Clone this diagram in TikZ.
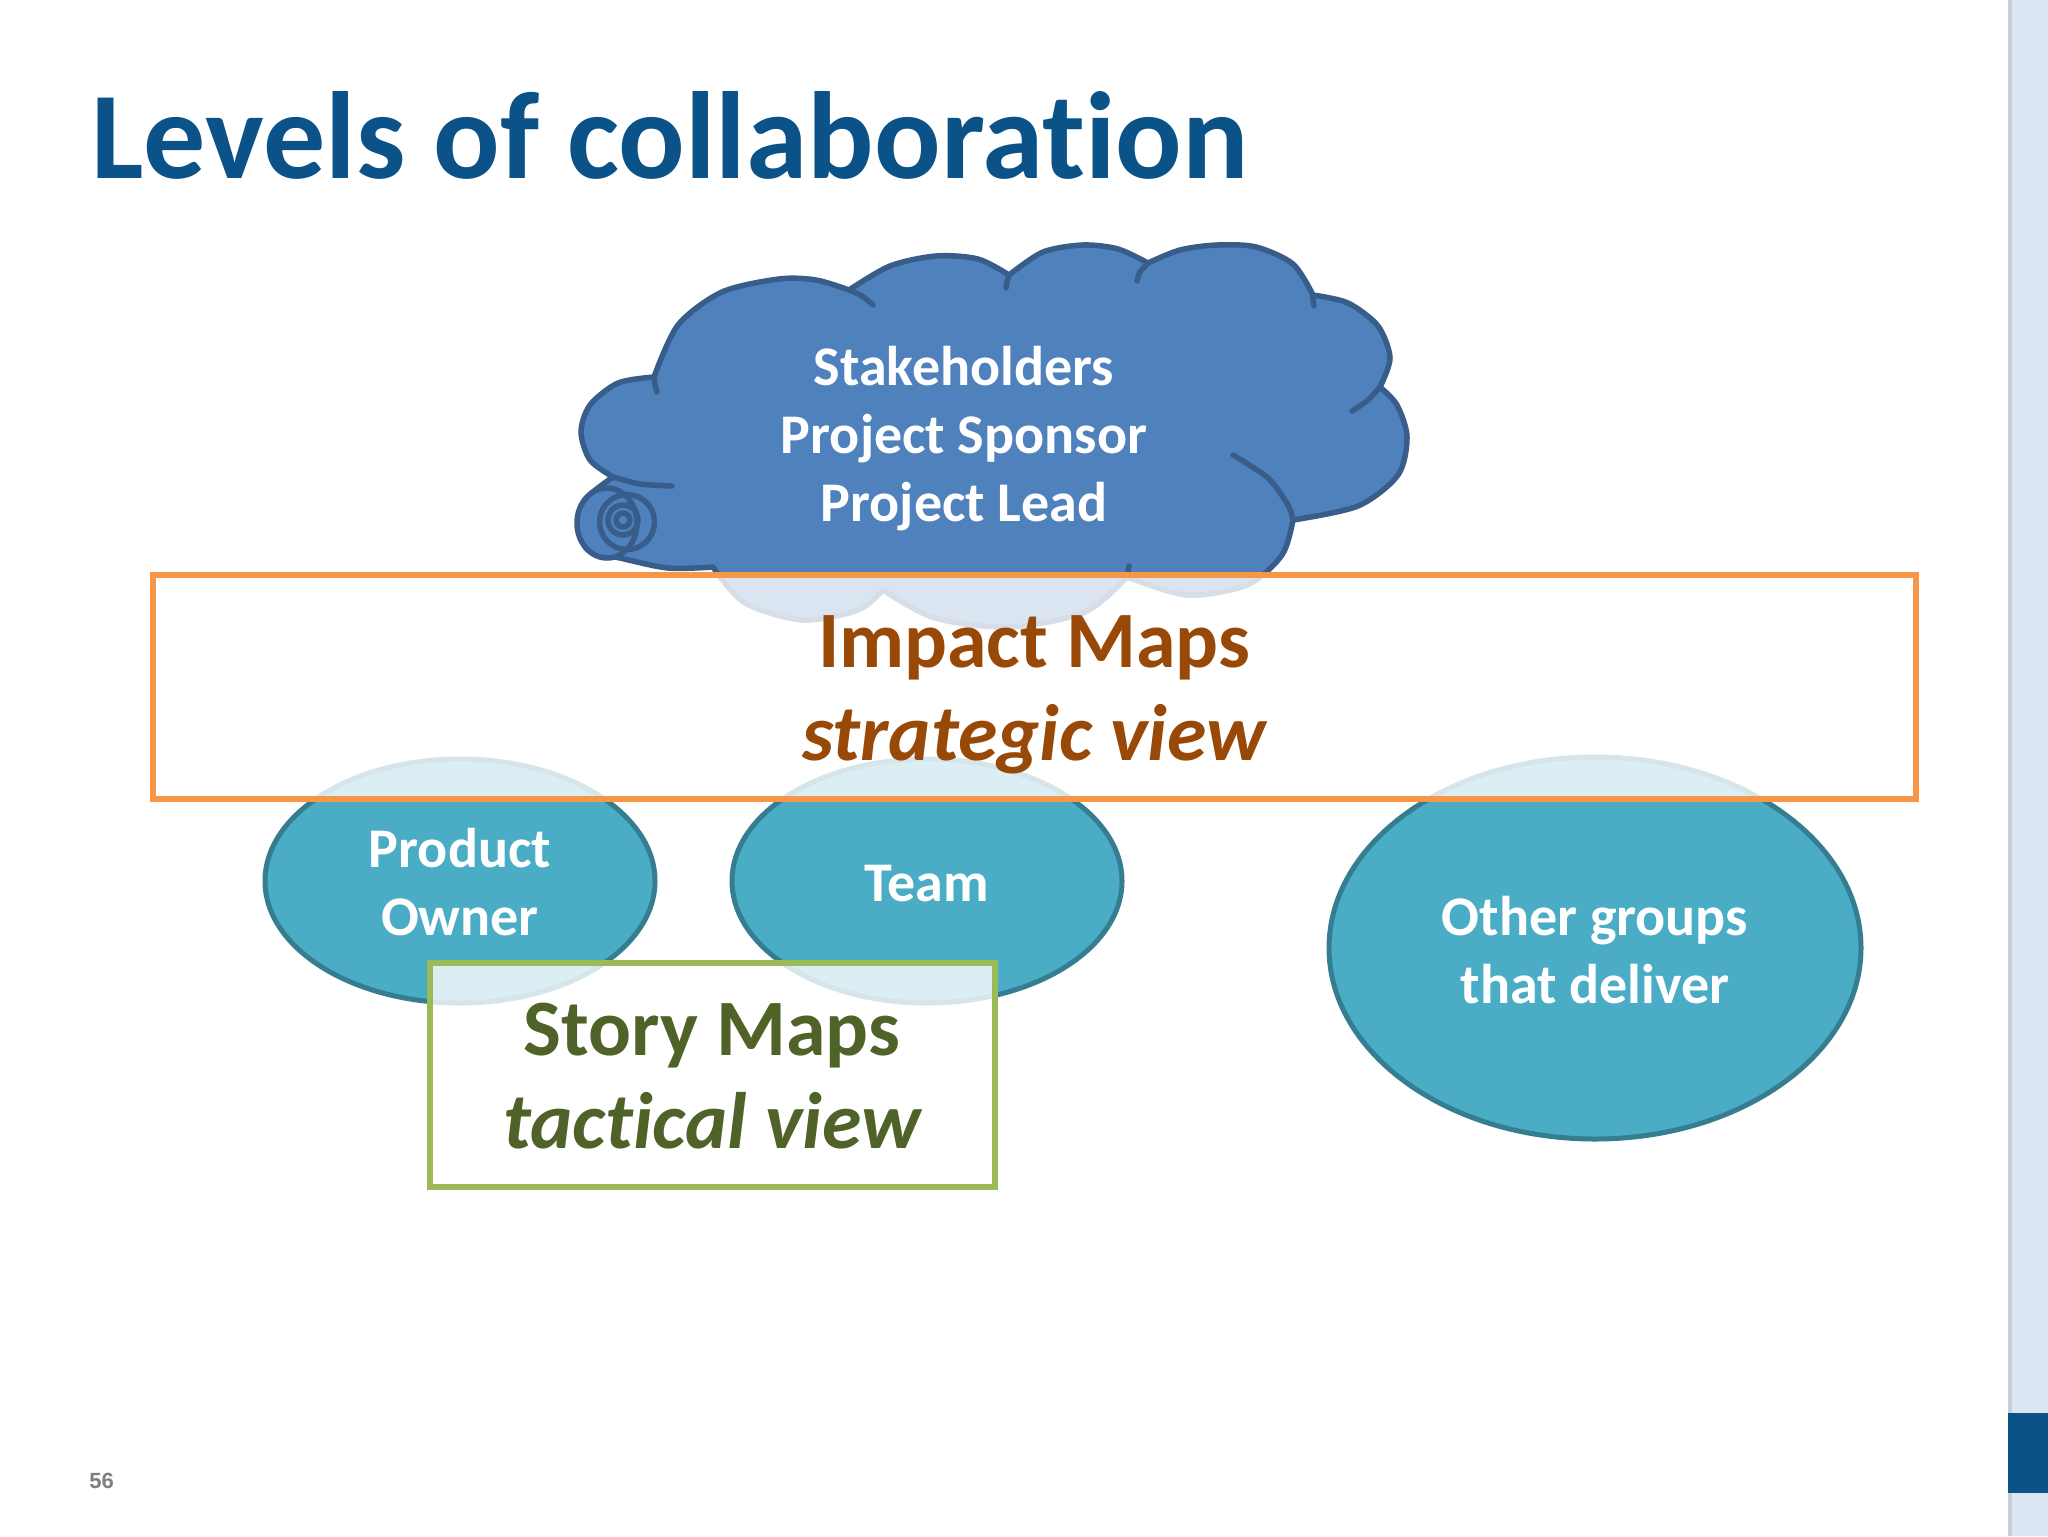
\documentclass[tikz,border=0pt]{standalone}
\usepackage{fontspec}
\setmainfont{Carlito}[Ligatures=NoCommon]
\newfontfamily\numfont{Liberation Sans}
\usetikzlibrary{positioning,shapes.geometric}
\definecolor{titleblue}{HTML}{0B5288}
\definecolor{cloudblue}{HTML}{4F81BD}
\definecolor{cloudline}{HTML}{385D8A}
\definecolor{aqua}{HTML}{4BACC6}
\definecolor{aqualine}{HTML}{357D91}
\definecolor{orangeline}{HTML}{F79646}
\definecolor{orangetext}{HTML}{984807}
\definecolor{greenline}{HTML}{9BBB59}
\definecolor{greentext}{HTML}{4F6228}
\definecolor{sidebg}{HTML}{DCE6F2}
\definecolor{pagegray}{HTML}{7F7F7F}

\begin{document}
\begin{tikzpicture}[x=0.5pt,y=-0.5pt,node distance=0pt,
                grp/.style={ellipse,draw=aqualine,fill=aqua,line width=2.5pt,inner sep=0pt},
                band/.style={rectangle,fill=white,fill opacity=0.8,line width=2.75pt,inner sep=0pt},
                wtxt/.style={text=white,font=\fontsize{28}{34}\selectfont\bfseries,
                  inner sep=0pt,outer sep=0pt,text height=24pt,text depth=10pt},
                bigtxt/.style={font=\fontsize{40}{46}\selectfont\bfseries,
                  inner sep=0pt,outer sep=0pt,text height=34pt,text depth=12.5pt},
                cl/.style={draw=cloudline,line width=2.75pt,line join=round,line cap=round}]
                \fill[white] (0,0) rectangle (2048,1536);
                \useasboundingbox (0,0) rectangle (2048,1536);
                % side bar
                \fill[sidebg] (2008,0) rectangle (2048,1536);
                \fill[sidebg!90!black] (2008,0) rectangle (2012,1536);
                \fill[titleblue] (2008,1413) rectangle (2048,1493);
                \node[anchor=base west,inner sep=0pt,text=titleblue,
                  font=\fontsize{62}{74}\selectfont\bfseries] (title) at (91,178) {Levels of collaboration};
                % cloud
                \filldraw[cl,fill=cloudblue]
                  plot[smooth] coordinates {(654,377) (618,383) (590,405) (581,432) (590,460) (613,477)}
                  -- plot[smooth] coordinates {(613,477) (588,497) (578,523) (588,550) (620,558) (668,568) (713,567)}
                  -- plot[smooth] coordinates {(713,567) (745,603) (803,620) (858,610) (883,590)}
                  -- plot[smooth] coordinates {(883,590) (935,618) (1010,627) (1085,612) (1127,577)}
                  -- plot[smooth] coordinates {(1127,577) (1187,595) (1247,585) (1282,555) (1293,520)}
                  -- plot[smooth] coordinates {(1293,520) (1358,506) (1398,475) (1407,437) (1397,405) (1380,387)}
                  -- plot[smooth] coordinates {(1380,387) (1390,358) (1378,326) (1348,303) (1313,295)}
                  -- plot[smooth] coordinates {(1313,295) (1293,264) (1256,247) (1217,245) (1180,250) (1148,263)}
                  -- plot[smooth] coordinates {(1148,263) (1118,249) (1083,245) (1043,252) (1009,275)}
                  -- plot[smooth] coordinates {(1009,275) (978,259) (936,256) (890,266) (849,290)}
                  -- plot[smooth] coordinates {(849,290) (816,280) (779,279) (722,292) (678,325) (654,377)}
                  -- cycle;
                \draw[cl] plot[smooth] coordinates {(654,377) (655,385) (657,392)}
                  plot[smooth] coordinates {(849,290) (862,296) (873,305)}
                  plot[smooth] coordinates {(1009,275) (1007,282) (1006,288)}
                  plot[smooth] coordinates {(1148,263) (1140,272) (1137,281)}
                  plot[smooth] coordinates {(1313,295) (1313,300) (1314,306)}
                  plot[smooth] coordinates {(1380,387) (1368,400) (1352,411)}
                  plot[smooth] coordinates {(1233,455) (1268,478) (1288,505) (1293,520)}
                  plot[smooth] coordinates {(1127,577) (1128,571) (1129,566)}
                  plot[smooth] coordinates {(613,477) (640,484) (672,486)};
                \filldraw[cl,fill=cloudblue] (607,523) ellipse [x radius=15pt,y radius=17.5pt];
                \draw[cl] (627,522) circle [radius=13.75pt]
                  (623,520) circle [radius=7.5pt]
                  (623,520) circle [radius=3.5pt];
                % groups
                \node[grp,minimum width=195pt,minimum height=122pt] (po) at (460,881) {};
                \node[grp,minimum width=195pt,minimum height=122pt] (team) at (927,881) {};
                \node[grp,minimum width=266pt,minimum height=191pt] (other) at (1595,948) {};
                % maps
                \node[band,draw=orangeline,minimum width=881.5pt,minimum height=112pt] (impact) at (1034.5,687) {};
                \node[band,draw=greenline,minimum width=282.5pt,minimum height=112pt] (story) at (712.5,1075) {};
                % texts
                \node[wtxt,anchor=base] (textst) at (964,385) {Stakeholders};
                \node[wtxt] (textsp) [below=of textst] {Project Sponsor};
                \node[wtxt] (textpl) [below=of textsp] {Project Lead};
                \node[wtxt,anchor=base] (textpo) at (460,867) {Product};
                \node[wtxt] (textow) [below=of textpo] {Owner};
                \node[wtxt,anchor=base] (textteam) at (927,901) {Team};
                \node[wtxt,anchor=base] (textog) at (1595,935) {Other groups};
                \node[wtxt] (texttd) [below=of textog] {that deliver};
                \node[bigtxt,text=orangetext,anchor=base] (textim) at (1034,667) {Impact Maps};
                \node[bigtxt,text=orangetext] (textsv) [below=of textim] {\itshape strategic view};
                \node[bigtxt,text=greentext,anchor=base] (textsm) at (712,1055) {Story Maps};
                \node[bigtxt,text=greentext] (texttv) [below=of textsm] {\itshape tactical view};
                \node[anchor=base west,inner sep=0pt,text=pagegray,
                  font=\numfont\fontsize{11}{13}\selectfont\bfseries] (pagenum) at (89,1488) {56};
            \end{tikzpicture}
\end{document}
